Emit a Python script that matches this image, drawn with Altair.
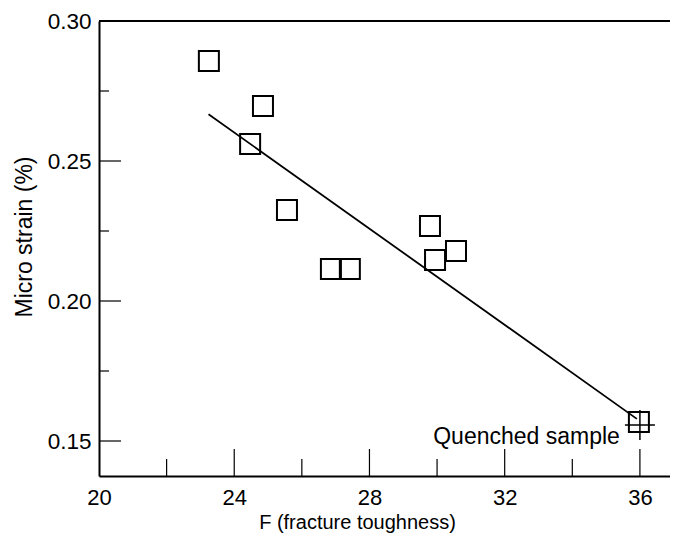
import altair as alt
import pandas as pd

# ---- data ----
sample_f = [23.25, 24.85, 24.47, 25.56, 26.86, 27.42, 29.79, 29.94, 30.56, 35.97]
sample_strain = [0.2857, 0.2696, 0.2561, 0.2325, 0.2114, 0.2114, 0.2268, 0.2146, 0.2179, 0.1568]
fit_f = [23.24, 35.91]
fit_strain = [0.2667, 0.1579]
quenched_f = [36.0]
quenched_strain = [0.1557]
quenched_label = ["Quenched sample"]
x_labels = [20, 24, 28, 32, 36]
x_major_ticks = [24, 28, 32, 36]
x_minor_ticks = [22, 26, 30, 34]
y_labels = [0.15, 0.20, 0.25, 0.30]
y_major_ticks = [0.15, 0.20, 0.25]
y_minor_ticks = [0.175, 0.225, 0.275]

W, H = 571, 455
FONT = "Liberation Sans"

xs = alt.Scale(domain=[20, 36.89], nice=False, zero=False)
ys = alt.Scale(domain=[0.1375, 0.30], nice=False, zero=False)

x_axis = alt.Axis(
    values=x_labels, title="F (fracture toughness)", grid=False, ticks=False, tickSize=0,
    domain=True, domainColor="black", domainWidth=2,
    labelFont=FONT, labelFontSize=22, labelColor="black", labelPadding=11,
    labelFlush=False, labelOverlap=False,
    titleFont=FONT, titleFontSize=20, titleFontWeight="normal", titleColor="black",
    titleX=258, titleY=52.8, titleAlign="center", titleBaseline="alphabetic",
)
y_axis = alt.Axis(
    values=y_labels, format=".2f", title="Micro strain (%)", grid=False, ticks=False, tickSize=0,
    domain=True, domainColor="black", domainWidth=2,
    labelFont=FONT, labelFontSize=22.5, labelColor="black", labelPadding=8,
    labelFlush=False, labelOverlap=False,
    titleFont=FONT, titleFontSize=23, titleFontWeight="normal", titleColor="black",
    titleAngle=270, titleX=-68, titleY=215.5, titleAlign="center", titleBaseline="alphabetic",
)

def X(field):
    return alt.X(field, scale=xs, axis=x_axis)

def Y(field):
    return alt.Y(field, scale=ys, axis=y_axis)

pts = alt.Chart(pd.DataFrame({"f": sample_f, "s": sample_strain})).mark_point(
    shape="square", size=400, filled=False, color="black", strokeWidth=2, opacity=1
).encode(x=X("f:Q"), y=Y("s:Q"))

fit = alt.Chart(pd.DataFrame({"f": fit_f, "s": fit_strain})).mark_line(
    color="black", strokeWidth=1.8
).encode(x=X("f:Q"), y=Y("s:Q"))

qdf = pd.DataFrame({"f": quenched_f, "s": quenched_strain, "t": quenched_label})
cross = alt.Chart(qdf).mark_point(
    shape="M-1,0L1,0M0,-1L0,1", size=900, filled=False, color="black", strokeWidth=1.5, opacity=1
).encode(x=X("f:Q"), y=Y("s:Q"))
label = alt.Chart(qdf).mark_text(
    align="right", baseline="alphabetic", dx=-20, dy=19, font=FONT, fontSize=23, color="black"
).encode(x=X("f:Q"), y=Y("s:Q"), text="t:N")

def xticks(vals, length):
    return alt.Chart(pd.DataFrame({"f": vals})).mark_rule(color="black", strokeWidth=1.2).encode(
        x=X("f:Q"), y=alt.value(H), y2=alt.value(H - length),
    )

def yticks(vals, length):
    return alt.Chart(pd.DataFrame({"s": vals})).mark_rule(color="black", strokeWidth=1.2).encode(
        y=Y("s:Q"), x=alt.value(0), x2=alt.value(length),
    )

top_border = alt.Chart(pd.DataFrame({"v": [0]})).mark_rule(color="black", strokeWidth=2).encode(
    x=alt.value(0), x2=alt.value(W), y=alt.value(0)
)

chart = alt.layer(
    pts, fit, cross, label,
    xticks(x_major_ticks, 27), xticks(x_minor_ticks, 17),
    yticks(y_major_ticks, 22), yticks(y_minor_ticks, 10),
    top_border,
).properties(
    width=W, height=H,
    autosize=alt.AutoSizeParams(type="none"),
    padding={"left": 91, "top": 13, "right": 0, "bottom": 57},
).configure_view(stroke=None)

chart.save("out.html", embed_options={"renderer": "svg", "actions": False})
